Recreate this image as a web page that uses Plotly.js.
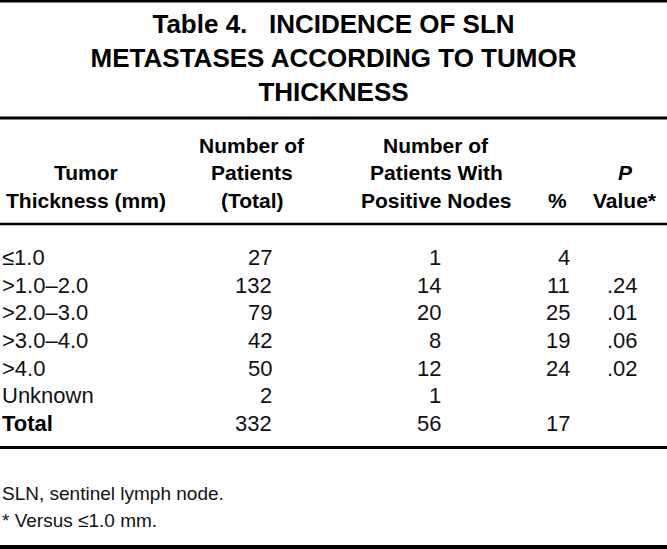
<!DOCTYPE html>
<html><head><meta charset="utf-8">
<script src="https://cdn.plot.ly/plotly-3.0.1.min.js"></script>
<style>html,body{margin:0;padding:0;background:#fff;overflow:hidden}</style>
</head><body><div id="chart" style="width:667px;height:549px"></div>
<script>
// ---- data ----
const titleLines = ['Table 4.   INCIDENCE OF SLN', 'METASTASES ACCORDING TO TUMOR', 'THICKNESS'];
const headerThickness = ['Tumor', 'Thickness (mm)'];
const headerTotal = ['Number of', 'Patients', '(Total)'];
const headerPositive = ['Number of', 'Patients With', 'Positive Nodes'];
const headerPercent = ['%'];
const headerP = ['<i>P</i>', 'Value*'];
const rowLabels = ['≤1.0', '>1.0–2.0', '>2.0–3.0', '>3.0–4.0', '>4.0', 'Unknown', 'Total'];
const totalPatients = [27, 132, 79, 42, 50, 2, 332];
const positiveNodes = [1, 14, 20, 8, 12, 1, 56];
const percentPositive = [4, 11, 25, 19, 24, null, 17];
const pValues = ['', '.24', '.01', '.06', '.02', '', ''];
const footnotes = ['SLN, sentinel lymph node.', '* Versus ≤1.0 mm.'];

// ---- layout constants ----
const W = 667, H = 549;
const py = p => 1 - p / H;
const FONT = 'Liberation Sans, Arial, sans-serif';
const dataFont = {family: FONT, size: 22, color: '#111'};
const headFont = {family: FONT, size: 21, color: '#000', weight: 'bold'};
const colX = {label: 0, total: 274, positive: 443, percent: 572, p: 640};
const headCenter = {label: 86, total: 252, positive: 436, percent: 557, p: 625};
const headLineY = [145, 172.5, 200];

const annotations = [];
// header
function addHeader(lines, cx) {
  const start = headLineY.length - lines.length;
  lines.forEach((t, i) => annotations.push({
    text: t, xref: 'x', x: cx, yref: 'paper', y: py(headLineY[start + i]),
    xanchor: 'center', yanchor: 'middle', showarrow: false, font: headFont
  }));
}
addHeader(headerThickness, headCenter.label);
addHeader(headerTotal, headCenter.total);
addHeader(headerPositive, headCenter.positive);
addHeader(headerPercent, headCenter.percent);
addHeader(headerP, headCenter.p);

// body cells
rowLabels.forEach((lab, i) => {
  const isTotal = lab === 'Total';
  const f = isTotal ? {family: FONT, size: 22, color: '#000', weight: 'bold'} : dataFont;
  annotations.push({text: lab, xref: 'x', x: colX.label, yref: 'y', y: i, xanchor: 'left', yanchor: 'middle', showarrow: false, font: f});
  annotations.push({text: String(totalPatients[i]), xref: 'x', x: colX.total, yref: 'y', y: i, xanchor: 'right', yanchor: 'middle', showarrow: false, font: dataFont});
  annotations.push({text: String(positiveNodes[i]), xref: 'x', x: colX.positive, yref: 'y', y: i, xanchor: 'right', yanchor: 'middle', showarrow: false, font: dataFont});
  if (percentPositive[i] !== null)
    annotations.push({text: String(percentPositive[i]), xref: 'x', x: colX.percent, yref: 'y', y: i, xanchor: 'right', yanchor: 'middle', showarrow: false, font: dataFont});
  if (pValues[i])
    annotations.push({text: pValues[i], xref: 'x', x: colX.p, yref: 'y', y: i, xanchor: 'right', yanchor: 'middle', showarrow: false, font: dataFont});
});

// footnotes
const footY = [493, 520];
footnotes.forEach((t, i) => annotations.push({
  text: t, xref: 'paper', x: 0, yref: 'paper', y: py(footY[i]),
  xanchor: 'left', yanchor: 'middle', showarrow: false,
  font: {family: FONT, size: 19, color: '#111'}
}));

const rule = (p, w) => ({type: 'line', xref: 'paper', yref: 'paper', x0: 0, x1: 1, y0: py(p), y1: py(p), line: {color: '#000', width: w}});
const shapes = [rule(1, 3), rule(118, 3), rule(224, 2.5), rule(447.5, 3), rule(547, 4)];

// y axis maps row index -> pixel rows
const row0 = 257.5, row6 = 423.5;
const span = 6 * H / (row6 - row0);
const yTop = -row0 * span / H;
const yBot = yTop + span;

const layout = {
  width: W, height: H,
  margin: {l: 0, r: 0, t: 0, b: 0, pad: 0},
  paper_bgcolor: '#fff', plot_bgcolor: '#fff',
  showlegend: false,
  title: {
    text: titleLines.join('<br>'),
    font: {family: FONT, size: 26, color: '#000', weight: 'bold'},
    x: 0.5, xanchor: 'center', xref: 'paper',
    y: py(33), yanchor: 'top', yref: 'container'
  },
  xaxis: {range: [0, W], visible: false, fixedrange: true},
  yaxis: {range: [yBot, yTop], visible: false, fixedrange: true},
  annotations: annotations,
  shapes: shapes
};

Plotly.newPlot('chart', [{x: [], y: [], type: 'scatter', mode: 'text', hoverinfo: 'skip'}], layout, {displayModeBar: false, staticPlot: true});
</script>
</body></html>
